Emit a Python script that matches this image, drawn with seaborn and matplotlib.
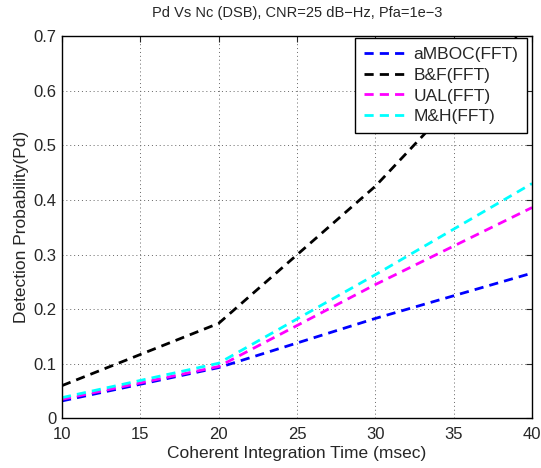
import numpy as np
import pandas as pd
import matplotlib
matplotlib.use("Agg")
import matplotlib.pyplot as plt
import seaborn as sns

# values
time_ms = [10, 20, 30, 40]
ambo = [0.032, 0.093, 0.183, 0.266]
bf = [0.060, 0.174, 0.425, 0.73]
ual = [0.035, 0.095, 0.245, 0.386]
mh = [0.038, 0.101, 0.263, 0.430]
methods = ["aMBOC(FFT)", "B&F(FFT)", "UAL(FFT)", "M&H(FFT)"]
colors = ["#0000ff", "#000000", "#ff00ff", "#00ffff"]

sns.set_style("white")
plt.rcParams["font.family"] = ["Liberation Sans", "DejaVu Sans"]

df = pd.concat([
    pd.DataFrame({"t": time_ms, "pd": vals, "method": name})
    for name, vals in zip(methods, [ambo, bf, ual, mh])
])

fig = plt.figure(figsize=(5.41, 4.68), dpi=100)
ax = fig.add_axes([0.1146, 0.106, 0.8688, 0.817])

sns.lineplot(data=df, x="t", y="pd", hue="method", style="method",
             hue_order=methods, style_order=methods,
             palette=dict(zip(methods, colors)),
             dashes={m: (3.3, 2.2) for m in methods},
             linewidth=2.0, ax=ax)

ax.set_xlim(10, 40)
ax.set_ylim(0, 0.7)
ax.set_xticks(np.arange(10, 41, 5))
ax.set_yticks(np.arange(0, 0.71, 0.1))
ax.set_yticklabels(["0", "0.1", "0.2", "0.3", "0.4", "0.5", "0.6", "0.7"])
ax.grid(True, linestyle=(0, (1, 3)), color="#666666", linewidth=0.7)
ax.tick_params(direction="in", top=True, right=True, length=4.5,
               labelsize=12, width=0.8)
ax.tick_params(axis="x", pad=6)
ax.tick_params(axis="y", pad=4)
for s in ax.spines.values():
    s.set_color("black")
    s.set_linewidth(1.0)

ax.set_title("Pd Vs Nc (DSB), CNR=25 dB\u2212Hz, Pfa=1e\u22123", fontsize=10.5, pad=14)
ax.set_xlabel("Coherent Integration Time (msec)", fontsize=12.5, labelpad=3)
ax.set_ylabel("Detection Probability(Pd)", fontsize=12.5, labelpad=3)

leg = ax.legend(loc="upper right", bbox_to_anchor=(0.989, 0.995),
                fontsize=12.5, frameon=True, fancybox=False,
                borderaxespad=0, handlelength=2.6, handletextpad=0.25,
                borderpad=0.5, labelspacing=0.33)
leg.get_frame().set_edgecolor("black")
leg.get_frame().set_linewidth(1.0)
leg.get_frame().set_alpha(1)

fig.savefig("out.png", dpi=100)
